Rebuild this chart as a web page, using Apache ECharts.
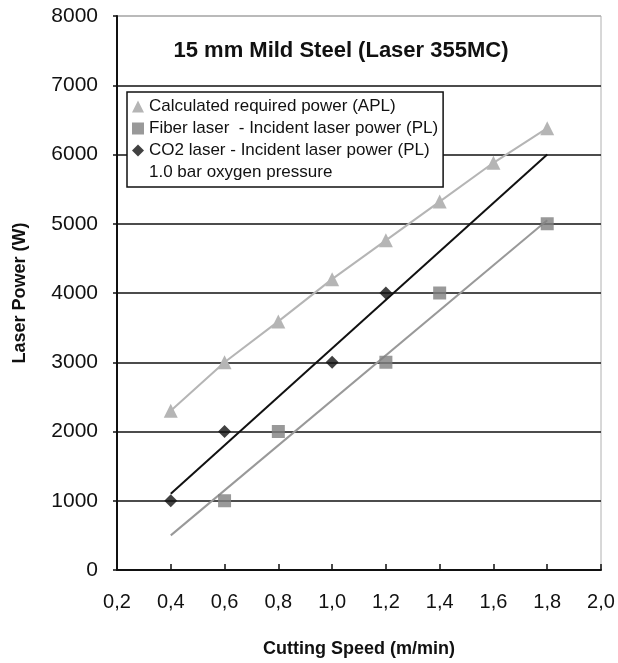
<!DOCTYPE html>
<html>
<head>
<meta charset="utf-8">
<script src="https://cdn.jsdelivr.net/npm/echarts@6/dist/echarts.min.js"></script>
<style>html,body{margin:0;padding:0;background:#fff;}#c{width:618px;height:663px;}</style>
</head>
<body>
<div id="c"></div>
<script>
// Data
var aplSpeed = [0.4, 0.6, 0.8, 1.0, 1.2, 1.4, 1.6, 1.8];
var aplPower = [2300, 3000, 3590, 4200, 4760, 5320, 5880, 6380];

var fiberSpeed = [0.6, 0.8, 1.2, 1.4, 1.8];
var fiberPower = [1000, 2000, 3000, 4000, 5000];
var fiberTrendSpeed = [0.4, 1.8];
var fiberTrendPower = [500, 5050];

var co2Speed = [0.4, 0.6, 1.0, 1.2];
var co2Power = [1000, 2000, 3000, 4000];
var co2TrendSpeed = [0.4, 1.8];
var co2TrendPower = [1100, 6000];

var xTicks = [0.2, 0.4, 0.6, 0.8, 1.0, 1.2, 1.4, 1.6, 1.8, 2.0];
var yTicks = [0, 1000, 2000, 3000, 4000, 5000, 6000, 7000, 8000];

var nameAPL = 'Calculated required power (APL)';
var nameFiber = 'Fiber laser  - Incident laser power (PL)';
var nameCO2 = 'CO2 laser - Incident laser power (PL)';
var nameNote = '1.0 bar oxygen pressure';
var titleText = '15 mm Mild Steel (Laser 355MC)';

function zip(a, b) { return a.map(function (v, i) { return [v, b[i]]; }); }

var font = 'Liberation Sans, Arial, sans-serif';
var chart = echarts.init(document.getElementById('c'), null, {renderer: 'canvas'});

var splitColors = yTicks.map(function (v, i) { return i === yTicks.length - 1 ? '#b0b0b0' : '#111'; });

chart.setOption({
  backgroundColor: '#fff',
  animation: false,
  grid: {left: 117, right: 17, top: 16, bottom: 91, show: true, borderColor: '#b0b0b0', borderWidth: 1},
  graphic: [{
    type: 'text', x: 341, y: 51, z: 100,
    style: {text: titleText, textAlign: 'center', textVerticalAlign: 'middle',
      font: 'bold 22px ' + font, fill: '#111'}
  }],
  legend: {
    orient: 'vertical', left: 127, top: 92, padding: [6, 5],
    backgroundColor: '#fff', borderColor: '#111', borderWidth: 1.5,
    itemWidth: 12, itemHeight: 12, itemGap: 5, selectedMode: false, z: 10,
    textStyle: {fontSize: 17, fontFamily: font, color: '#111'},
    data: [
      {name: nameAPL, icon: 'triangle'},
      {name: nameFiber, icon: 'rect'},
      {name: nameCO2, icon: 'diamond'},
      {name: nameNote, icon: 'none'}
    ]
  },
  xAxis: {
    type: 'value', min: 0.2, max: 2.0, interval: 0.2,
    name: 'Cutting Speed (m/min)', nameLocation: 'middle', nameGap: 70,
    nameTextStyle: {fontSize: 18, fontWeight: 'bold', fontFamily: font, color: '#111'},
    axisLine: {show: true, lineStyle: {color: '#111', width: 2}},
    axisTick: {show: true, inside: true, length: 6, lineStyle: {color: '#111', width: 1.5}},
    splitLine: {show: false},
    axisLabel: {margin: 22, fontSize: 20, fontFamily: font, color: '#111',
      formatter: function (v) { return (Math.round(v * 10) / 10).toFixed(1).replace('.', ','); }}
  },
  yAxis: {
    type: 'value', min: 0, max: 8000, interval: 1000,
    name: 'Laser Power (W)', nameLocation: 'middle', nameGap: 88, nameRotate: 90,
    nameTextStyle: {fontSize: 18, fontWeight: 'bold', fontFamily: font, color: '#111'},
    axisLine: {show: true, lineStyle: {color: '#111', width: 2}},
    axisTick: {show: true, inside: false, length: 4, lineStyle: {color: '#111', width: 1.5}},
    splitLine: {show: true, lineStyle: {color: splitColors, width: 1.5}},
    axisLabel: {margin: 19, fontSize: 21, fontFamily: font, color: '#111',
      formatter: function (v) { return String(v); }}
  },
  series: [
    {name: nameAPL, type: 'line', data: zip(aplSpeed, aplPower), symbol: 'triangle', symbolSize: 14,
      lineStyle: {color: '#b5b5b5', width: 2}, itemStyle: {color: '#b5b5b5'}, z: 3},
    {name: 'fiberTrend', type: 'line', data: zip(fiberTrendSpeed, fiberTrendPower), symbol: 'none',
      lineStyle: {color: '#999', width: 2}, itemStyle: {color: '#999'}, z: 2},
    {name: nameFiber, type: 'scatter', data: zip(fiberSpeed, fiberPower), symbol: 'rect', symbolSize: 13,
      itemStyle: {color: '#7f7f7f'}, z: 4},
    {name: 'co2Trend', type: 'line', data: zip(co2TrendSpeed, co2TrendPower), symbol: 'none',
      lineStyle: {color: '#111', width: 2}, itemStyle: {color: '#111'}, z: 2},
    {name: nameCO2, type: 'scatter', data: zip(co2Speed, co2Power), symbol: 'diamond', symbolSize: 13,
      itemStyle: {color: '#111'}, z: 4},
    {name: nameNote, type: 'scatter', data: [], itemStyle: {color: '#fff'}}
  ]
});
</script>
</body>
</html>
